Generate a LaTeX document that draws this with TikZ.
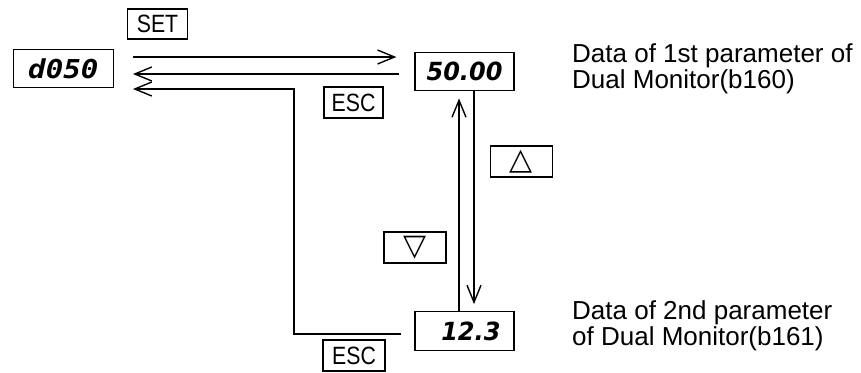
\documentclass[tikz,border=0pt]{standalone}
\usepackage{fontspec}
\setmainfont{Liberation Sans}
\newfontfamily\descf{Liberation Sans}
\newfontfamily\keyf[FakeStretch=0.85]{Liberation Sans}
\newfontfamily\segA[FakeStretch=1.12]{DejaVu Sans Mono}
\newfontfamily\segB[FakeStretch=0.96]{DejaVu Sans}
\newfontfamily\symf{DejaVu Sans}
\usetikzlibrary{arrows.meta}
\begin{document}
\begin{tikzpicture}[x=1pt,y=-1pt,
  disp/.style={draw,line width=1.3pt,inner sep=0pt,minimum width=99pt,minimum height=38.5pt},
  keybox/.style={draw,line width=1.3pt,inner sep=0pt,minimum width=60pt,minimum height=30pt,font=\keyf\fontsize{25}{25}\selectfont},
  symbox/.style={draw,line width=1.3pt,inner sep=0pt,minimum width=61.5pt,minimum height=31pt,font=\symf\fontsize{30}{30}\selectfont},
  desc/.style={inner sep=0pt,align=left,anchor=base west},
  arr/.style={line width=1.4pt,-{Straight Barb[length=17pt,width=14pt,line width=1.4pt]}},
  ln/.style={line width=1.4pt}]
\useasboundingbox (0,0) rectangle (861,372);
% displays
\node[disp,minimum width=100pt] (d050) at (63.3,68.5) {\segA\bfseries\itshape\fontsize{26}{26}\selectfont d050};
\node[disp] (v50) at (464.5,71.5) {\segB\bfseries\itshape\fontsize{25}{25}\selectfont 50.00};
\node[disp,text width=72pt,align=right] (v12) at (464.5,331) {\segB\bfseries\itshape\fontsize{25}{25}\selectfont 12.3};
% keys
\node[keybox] (set) at (157.5,24) {SET};
\node[keybox,minimum width=59pt,minimum height=31pt] (esc1) at (353.5,102.5) {ESC};
\node[keybox,minimum width=62pt,minimum height=31pt] (esc2) at (354,355.5) {ESC};
\node[symbox] (up) at (521.5,161.5) {△};
\node[symbox,minimum width=62pt] (dn) at (415,247.5) {▽};
% descriptions
\node[desc,font=\descf\fontsize{26}{23.5}\selectfont] (t1) at (572,88) {Data of 1st parameter of\\Dual Monitor(b160)};
\node[desc,font=\descf\fontsize{26}{23}\selectfont] (t2) at (572,345) {Data of 2nd parameter\\of Dual Monitor(b161)};
% connectors
\draw[arr] ([xshift=19pt]d050.east |- 0,57) -- ([xshift=-18pt]v50.west |- 0,57);
\draw[arr] ([xshift=-15pt]v50.west |- 0,74) -- ([xshift=19pt]d050.east |- 0,74);
\draw[arr] ([xshift=-13pt]v12.west |- 0,334) -| (294,89) -- ([xshift=19pt]d050.east |- 0,89);
\draw[arr,shorten >=7pt] ([xshift=9.5pt]v50.south) -- ([xshift=9.5pt]v12.north);
\draw[arr,shorten >=7pt] ([xshift=-5.5pt]v12.north) -- ([xshift=-5.5pt]v50.south);
\end{tikzpicture}
\end{document}
